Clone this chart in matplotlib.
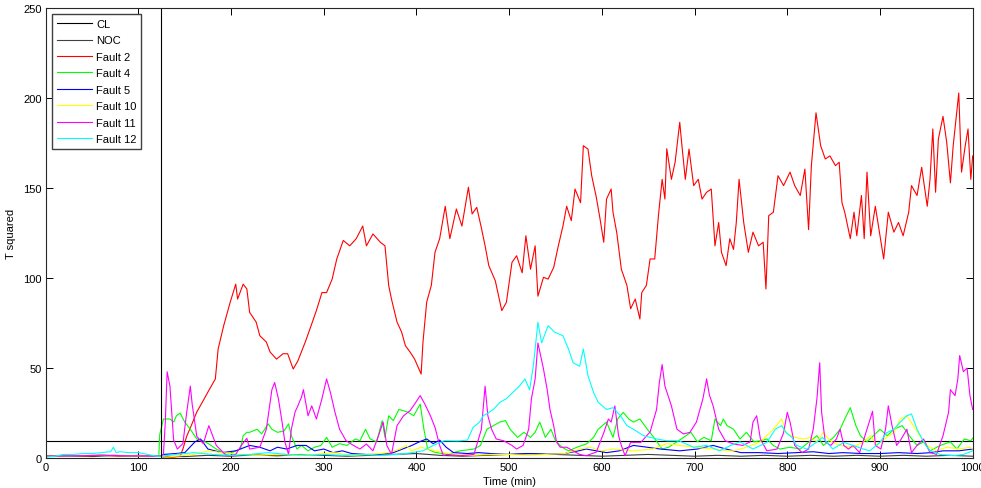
import matplotlib
matplotlib.use("Agg")
import matplotlib.pyplot as plt

plt.rcParams['font.family'] = ['Liberation Sans', 'DejaVu Sans']
plt.rcParams['font.size'] = 8

# control limit and start of faulty operation
cl_level = 9.5
fault_start = 124

# normal operating condition statistic
noc_t = [0, 25, 50, 75, 100, 125, 150, 175, 200, 225, 250, 275, 300, 325, 350, 375, 400, 425,
         450, 475, 500, 525, 550, 575, 600, 625, 650, 675, 700, 725, 750, 775, 800, 825, 850,
         875, 900, 925, 950, 975, 1000]
noc_v = [1, 1.2, 0.8, 1.5, 1, 1, 0.8, 1.5, 1, 1.8, 1.2, 2, 1.5, 1, 1.5, 2, 2.5, 1.5,
         1, 1.5, 2, 2.5, 2, 1.5, 1, 1.5, 2, 1.5, 1, 1.5, 1, 1.5, 1, 1.5, 1,
         1.5, 1, 1.5, 1, 1.5, 1]

f2_t = [0, 20, 40, 60, 80, 100, 124, 127, 138, 145, 148, 152, 157, 163, 170, 175, 183, 186,
        192, 199, 205, 207, 213, 217, 220, 227, 231, 238, 242, 249, 256, 261, 267, 272, 280,
        285, 292, 298, 303, 309, 314, 321, 328, 335, 342, 346, 353, 361, 366, 370, 373, 379,
        384, 388, 393, 398, 405, 407, 411, 416, 420, 425, 431, 436, 443, 449, 456, 460, 465,
        470, 474, 478, 485, 492, 497, 503, 508, 514, 518, 523, 528, 531, 537, 542, 548, 553,
        558, 562, 567, 571, 577, 580, 585, 589, 594, 598, 602, 605, 610, 612, 616, 621, 627,
        631, 636, 641, 643, 648, 652, 657, 661, 665, 668, 670, 675, 679, 684, 686, 690, 694,
        699, 704, 708, 713, 718, 722, 726, 729, 734, 738, 742, 745, 748, 753, 758, 763, 769,
        774, 777, 780, 785, 790, 796, 803, 808, 814, 819, 823, 826, 831, 836, 841, 846, 852,
        856, 859, 862, 868, 872, 875, 880, 883, 886, 890, 895, 900, 904, 909, 915, 920, 925,
        931, 934, 940, 945, 951, 954, 957, 960, 963, 968, 972, 976, 979, 985, 988, 992, 995,
        998, 1000]
f2_v = [1, 1.5, 1, 1.5, 1, 1.5, 1, 0.5, 0.5, 1, 5, 12, 18, 25.6, 32, 36.7, 44, 60.6,
        73.6, 86.6, 96.7, 88.4, 96.7, 94, 81, 75.6, 68, 64.5, 59, 55, 58, 58, 49.5, 54, 64.5,
        71.7, 82, 92, 92, 99.5, 110.7, 121, 118, 122, 129, 118, 124.6, 120, 118, 96, 88.4, 75.6,
        70, 62.5, 59, 55, 46.7, 64.5, 86.7, 96, 114.5, 122, 140, 122, 138.5, 129, 150.6, 135.7, 139.4,
        128, 118, 107, 98.6, 82, 86.6, 108.8, 112.5, 103, 123.6, 105, 118, 90, 100.5, 99.5, 106, 118,
        129, 140, 132, 149.6, 142, 173.7, 171.8, 157, 145, 133, 120, 144, 149.6, 136.6, 125.5, 105, 96,
        83, 88.4, 77.3, 92, 96, 110.7, 110.7, 134.8, 155, 144, 172, 155, 164.5, 186.7, 175.6, 155, 171.8,
        151.5, 155, 144, 147.8, 149.6, 118, 131, 114.4, 107, 122, 116, 131, 155, 131, 114.4, 125.6, 118,
        120, 94, 134.8, 136.7, 157, 151.5, 159, 151.5, 146, 160.7, 127, 162.6, 192, 173.7, 166.3, 168, 162.6,
        164.5, 142, 136.7, 122, 136.7, 123.6, 146, 122, 159, 123.6, 140, 123.6, 110.7, 136.7, 125.6, 131, 123.6,
        136.7, 151.5, 146, 161.7, 140, 155, 183, 147.8, 177.4, 190, 175.6, 153, 173.7, 203, 159, 173.7, 183,
        155, 168]

f4_t = [0, 60, 122, 123, 127, 134, 138, 141, 145, 150, 156, 163, 170, 176, 184, 195, 202, 210,
        213, 217, 220, 228, 233, 240, 244, 250, 257, 262, 265, 271, 276, 283, 290, 297, 303, 309,
        317, 325, 334, 339, 345, 350, 357, 363, 366, 370, 375, 381, 386, 391, 397, 404, 408, 412,
        419, 433, 447, 462, 469, 476, 483, 490, 496, 501, 509, 516, 523, 528, 533, 539, 545, 550,
        557, 564, 573, 584, 591, 596, 605, 612, 617, 623, 629, 634, 641, 649, 656, 665, 672, 681,
        688, 696, 703, 710, 718, 722, 728, 731, 735, 742, 749, 756, 764, 771, 778, 785, 792, 803,
        814, 825, 832, 839, 850, 857, 862, 868, 874, 879, 886, 893, 900, 908, 915, 924, 933, 940,
        947, 954, 965, 976, 983, 991, 998, 1000]
f4_v = [1, 1.5, 1, 13, 21.7, 21.7, 20, 23.5, 25, 20, 16, 10.6, 9.6, 7.8, 5, 2, 3.3, 5,
        12.4, 14.3, 14.3, 16, 13.4, 19, 16, 14.3, 15, 19, 12.4, 5, 7, 4, 6, 7, 11.5, 6,
        8, 7, 10.6, 9.6, 16, 10.6, 9, 20.8, 11.5, 23.5, 20.8, 27, 26.3, 25.4, 23.5, 30, 16, 5,
        3.3, 2, 4, 5, 7, 16, 18, 20, 20.8, 16, 11.5, 14.3, 11.5, 14.3, 20, 11.5, 16, 9.6,
        6, 4, 6, 8, 11.5, 16, 20, 11.5, 21.7, 25.4, 21.7, 20, 21.7, 16, 11.5, 5, 6, 9,
        11.5, 14.3, 9, 11.5, 9.6, 21.7, 18, 21.7, 18, 16, 10.6, 14.3, 9, 9.6, 10.6, 7, 5, 6,
        5, 9.6, 12.4, 7, 11.5, 16, 21.7, 28, 18, 12.4, 9, 12.4, 16, 12.4, 16, 18, 11.5, 7,
        9, 4, 7, 9, 5, 10.6, 9.6, 11]

f5_t = [0, 60, 124, 127, 140, 150, 161, 167, 175, 190, 205, 220, 231, 242, 250, 260, 271, 281,
        290, 300, 310, 320, 330, 345, 360, 375, 385, 395, 403, 411, 418, 425, 432, 440, 455, 467,
        480, 500, 520, 540, 560, 575, 583, 594, 605, 619, 634, 649, 663, 684, 703, 720, 734, 750,
        770, 790, 810, 828, 845, 860, 880, 900, 920, 940, 955, 968, 985, 1000]
f5_v = [1, 1.5, 1, 2, 2.5, 3, 9, 10.6, 5, 3, 4, 7, 6, 4, 6, 5, 7, 7,
        4, 5, 3, 4, 2.5, 2, 2, 3, 5, 7, 9, 10.6, 8, 10, 6, 3, 2.5, 3,
        2.5, 2, 2.5, 2, 2.5, 4, 5, 4, 3, 4, 7, 6, 5, 4, 5, 7, 5, 3,
        3, 2.5, 3, 3.5, 2.5, 3, 2.5, 2.5, 3, 2.5, 3, 4, 4, 5]

f10_t = [0, 60, 124, 130, 160, 175, 190, 210, 230, 250, 270, 290, 310, 330, 350, 370, 382, 389,
         395, 405, 420, 440, 460, 480, 500, 520, 540, 560, 576, 587, 600, 612, 634, 655, 670, 684,
         699, 720, 734, 742, 756, 771, 785, 794, 799, 808, 817, 825, 832, 839, 846, 857, 871, 882,
         890, 897, 907, 915, 922, 929, 936, 943, 951, 961, 972, 986, 997, 1000]
f10_v = [1, 1.5, 1, 0.5, 2, 4, 3, 2, 1.5, 2, 1.5, 2, 3, 1.5, 2, 3, 5, 7,
         4, 6, 4, 2, 1.5, 2, 2, 1.5, 2, 2.5, 5, 6, 4, 5, 4, 5, 8, 7,
         6, 5, 4, 4, 6, 9, 16, 21.7, 14, 11.5, 10.6, 11.5, 9, 14.3, 9.6, 7, 6, 9,
         12.4, 7, 11.5, 14.3, 21.7, 23.5, 18, 12.4, 7, 4, 6, 5, 6, 5]

f11_t = [0, 60, 124, 127, 129, 131, 134, 138, 142, 148, 152, 156, 158, 163, 170, 176, 184, 195,
         205, 211, 217, 220, 231, 238, 244, 247, 251, 255, 258, 262, 265, 269, 272, 276, 278, 283,
         287, 292, 298, 303, 307, 312, 317, 324, 332, 339, 346, 353, 359, 364, 368, 373, 379, 386,
         393, 398, 404, 409, 415, 420, 425, 429, 433, 447, 462, 470, 474, 477, 481, 486, 494, 503,
         508, 515, 521, 524, 528, 531, 537, 541, 544, 548, 551, 555, 562, 569, 576, 583, 594, 602,
         607, 610, 614, 618, 621, 625, 631, 642, 652, 659, 662, 665, 668, 675, 681, 688, 695, 702,
         709, 713, 716, 720, 726, 733, 742, 752, 760, 763, 767, 771, 778, 789, 796, 800, 803, 808,
         816, 823, 828, 832, 835, 837, 841, 847, 853, 857, 861, 866, 871, 878, 886, 892, 895, 901,
         906, 909, 913, 918, 923, 929, 934, 940, 947, 954, 961, 968, 974, 976, 981, 984, 986, 990,
         994, 997, 1000]
f11_v = [1, 1.5, 1, 2, 20, 48, 40, 10, 5, 8, 25, 40, 30, 12, 8, 18, 7, 1.3,
         2, 7, 11, 5, 6, 16, 38, 42, 33, 20, 9, 2, 16, 25.6, 29, 34, 38, 23.5,
         29, 21.7, 33, 44, 36.7, 25.6, 16, 9.6, 7, 5, 7.8, 4, 12.4, 20, 7, 2, 18, 23.5,
         26.3, 30, 34.7, 30, 23.5, 17, 7, 1.3, 2, 1.3, 2, 16, 40, 23.5, 16, 10.6, 9.6, 7,
         5, 7, 16, 33, 44, 64, 49.5, 38, 27, 18, 9, 6, 6, 4, 2, 1.3, 3.3, 14,
         21.7, 20, 29, 12.4, 7, 1.3, 8.7, 8.7, 14.5, 27, 42, 52, 40, 29, 16, 13.4, 14.3, 20,
         33, 44, 35, 29, 16, 9.6, 7.8, 7, 9, 20, 23.5, 10.6, 4, 5, 14, 25.4, 20, 7,
         3, 5, 16, 33, 53, 25.6, 9, 7, 10.6, 16, 7, 5, 7, 3, 16, 26, 7, 5,
         16, 29, 18, 7, 10.6, 16, 3, 7, 10.6, 3, 2, 12.4, 25.4, 38, 34.7, 44, 57, 48,
         50, 35, 27]

f12_t = [0, 10, 19, 30, 40, 50, 60, 70, 73, 76, 80, 90, 100, 110, 120, 125, 140, 160,
         180, 200, 220, 240, 260, 280, 300, 320, 340, 360, 380, 395, 407, 418, 430, 445, 455, 461,
         468, 472, 477, 483, 490, 497, 504, 511, 517, 522, 526, 531, 535, 542, 549, 558, 564, 569,
         576, 580, 585, 591, 596, 605, 612, 620, 627, 634, 645, 659, 670, 683, 699, 713, 727, 739,
         749, 763, 778, 787, 794, 799, 805, 810, 821, 832, 838, 849, 861, 871, 882, 889, 900, 907,
         915, 922, 929, 934, 940, 947, 954, 965, 979, 990, 1000]
f12_v = [0.5, 1, 2, 2, 2.5, 2.5, 3, 3.5, 6, 3, 3.5, 3, 3, 2, 1, 1, 2, 3,
         2, 1.5, 2, 3, 2, 1.5, 2, 1.5, 2, 1.5, 2, 3, 4, 7, 9.6, 9.5, 10, 17,
         20, 23.5, 25, 27, 31, 33, 36.5, 40, 44, 38, 51, 75.5, 64, 73.6, 70, 68, 60.6, 53,
         51, 60.6, 45.8, 36.5, 31, 27, 28, 23.5, 18, 16, 12.4, 10.6, 9.6, 9.6, 6, 7, 4, 7,
         9, 5, 8.7, 16, 18, 14, 11.5, 7, 5, 9, 11.5, 5, 8.7, 7, 5, 4, 8.7, 14,
         16, 20, 23.5, 24.5, 16, 9, 4, 2, 1.3, 2, 4]

fig = plt.figure(figsize=(9.81, 4.89), dpi=100)
ax = fig.add_axes([0.0466, 0.0613, 0.9449, 0.9193])

lw = 0.8
ax.plot([0, 1000], [cl_level, cl_level], color='black', lw=lw, label='CL')
ax.plot(noc_t, noc_v, color='#404040', lw=lw, label='NOC')
ax.plot(f2_t, f2_v, color='red', lw=lw, label='Fault 2')
ax.plot(f4_t, f4_v, color='#00ff00', lw=lw, label='Fault 4')
ax.plot(f5_t, f5_v, color='#0000ff', lw=lw, label='Fault 5')
ax.plot(f10_t, f10_v, color='#ffff00', lw=lw, label='Fault 10')
ax.plot(f11_t, f11_v, color='#ff00ff', lw=lw, label='Fault 11')
ax.plot(f12_t, f12_v, color='#00ffff', lw=lw, label='Fault 12')
ax.axvline(fault_start, color='black', lw=lw)

ax.set_xlim(0, 1000)
ax.set_ylim(0, 250)
ax.set_xticks(range(0, 1001, 100))
ax.set_yticks(range(0, 251, 50))
ax.tick_params(direction='in', top=True, right=True, length=5, width=0.7, pad=3)
for s in ax.spines.values():
    s.set_linewidth(0.8)
    s.set_color('#262626')

ax.set_xlabel('Time (min)', labelpad=3)
ax.set_ylabel('T squared', labelpad=5)

leg = ax.legend(loc='upper left', bbox_to_anchor=(0.0068, 0.9878), fancybox=False,
                edgecolor='#404040', framealpha=1, handlelength=3.15, handletextpad=0.35,
                borderpad=0.45, borderaxespad=0, labelspacing=0.58, fontsize=8)
leg.get_frame().set_linewidth(1.0)

fig.savefig('out.png', dpi=100)
